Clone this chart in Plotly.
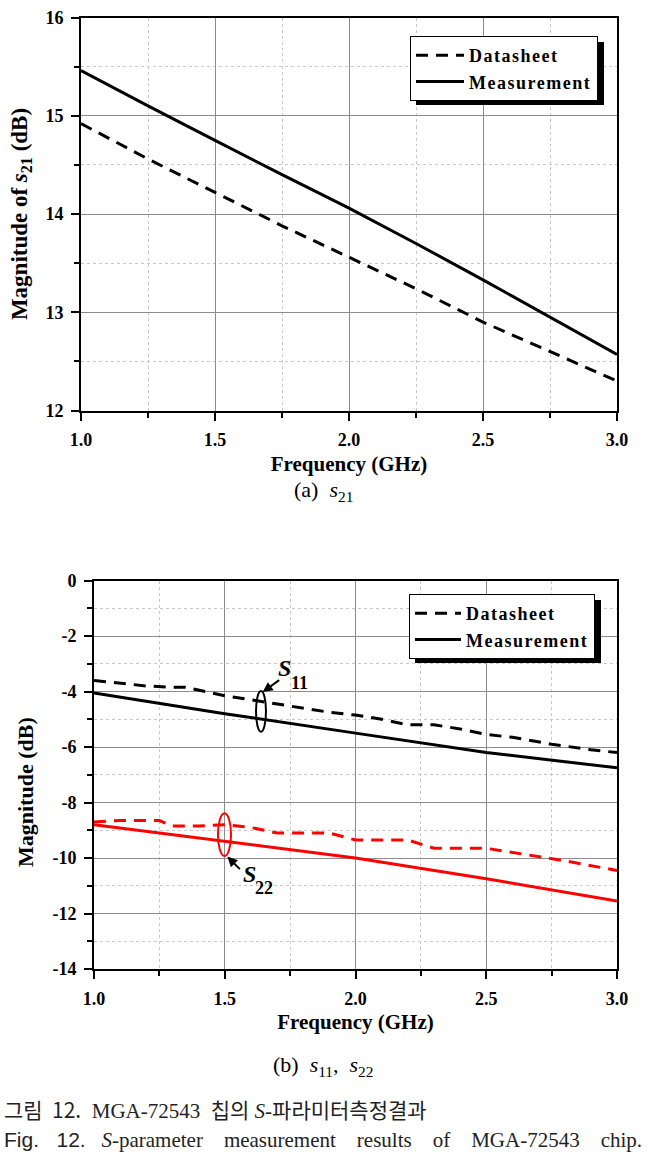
import plotly.graph_objects as go

# ---- data (a) s21 ----
freq_a = [1.0, 1.25, 1.5, 1.75, 2.0, 2.25, 2.5, 2.75, 3.0]
s21_datasheet = [14.92, 14.56, 14.22, 13.88, 13.56, 13.24, 12.9, 12.6, 12.3]
s21_measure = [15.46, 15.1, 14.75, 14.4, 14.06, 13.7, 13.33, 12.95, 12.57]

# ---- data (b) s11 / s22 ----
freq_s11_ds = [1.0, 1.1, 1.2, 1.3, 1.35, 1.5, 1.7, 1.9, 2.0, 2.1, 2.2, 2.3, 2.4, 2.5, 2.6, 2.75, 2.9, 3.0]
s11_datasheet = [-3.6, -3.7, -3.8, -3.85, -3.85, -4.15, -4.45, -4.75, -4.85, -5.0, -5.2, -5.2, -5.35, -5.55, -5.65, -5.9, -6.1, -6.2]
freq_b = [1.0, 1.5, 2.0, 2.5, 3.0]
s11_measure = [-4.05, -4.8, -5.5, -6.2, -6.75]
freq_s22_ds = [1.0, 1.1, 1.25, 1.3, 1.4, 1.5, 1.6, 1.7, 1.9, 2.0, 2.2, 2.3, 2.5, 2.7, 2.8, 3.0]
s22_datasheet = [-8.7, -8.65, -8.65, -8.85, -8.85, -8.8, -8.9, -9.1, -9.1, -9.35, -9.35, -9.65, -9.65, -9.95, -10.1, -10.45]
s22_measure = [-8.8, -9.4, -10.0, -10.75, -11.55]

W, H = 647, 1173
SERIF = "Liberation Serif, Times New Roman, serif"
KR = "Noto Sans CJK KR"
SANS = "Liberation Sans, Arial, sans-serif"

def legname(s):
    return "<span style='letter-spacing:1.5px'><b>%s</b></span>" % s

fig = go.Figure()
dash = "12px,8px"
fig.add_trace(go.Scatter(x=freq_a, y=s21_datasheet, mode="lines", name=legname("Datasheet"),
                         line=dict(color="black", width=3, dash=dash), xaxis="x", yaxis="y", legend="legend"))
fig.add_trace(go.Scatter(x=freq_a, y=s21_measure, mode="lines", name=legname("Measurement"),
                         line=dict(color="black", width=3), xaxis="x", yaxis="y", legend="legend"))

fig.add_trace(go.Scatter(x=freq_s11_ds, y=s11_datasheet, mode="lines", name=legname("Datasheet"),
                         line=dict(color="black", width=3, dash=dash), xaxis="x2", yaxis="y2", legend="legend2"))
fig.add_trace(go.Scatter(x=freq_b, y=s11_measure, mode="lines", name=legname("Measurement"),
                         line=dict(color="black", width=3), xaxis="x2", yaxis="y2", legend="legend2"))
fig.add_trace(go.Scatter(x=freq_s22_ds, y=s22_datasheet, mode="lines", name="s22 Datasheet",
                         line=dict(color="#ff0000", width=3, dash=dash), xaxis="x2", yaxis="y2", showlegend=False))
fig.add_trace(go.Scatter(x=freq_b, y=s22_measure, mode="lines", name="s22 Measurement",
                         line=dict(color="#ff0000", width=3), xaxis="x2", yaxis="y2", showlegend=False))

def py(p):
    return 1 - p / H

def px(p):
    return p / W

tickfont = dict(family=SERIF, size=18, color="black")
titlefont = dict(family=SERIF, size=21, color="black")
ytitlefont = dict(family=SERIF, size=22, color="black")

def xaxis(domain, anchor):
    return dict(domain=domain, anchor=anchor, range=[1.0, 3.0], tickvals=[1.0, 1.5, 2.0, 2.5, 3.0],
                ticktext=["<b>1.0</b>", "<b>1.5</b>", "<b>2.0</b>", "<b>2.5</b>", "<b>3.0</b>"],
                ticks="outside", ticklen=8, tickwidth=2, tickcolor="black",
                showline=True, linecolor="black", linewidth=2, mirror=True,
                showgrid=True, gridcolor="#8c8c8c", gridwidth=1, zeroline=False, automargin=False,
                minor=dict(tickvals=[1.25, 1.75, 2.25, 2.75], ticks="outside", ticklen=5, tickwidth=2,
                           tickcolor="black", showgrid=True, gridcolor="#c8c8c8", griddash="dot", gridwidth=1),
                tickfont=tickfont, ticklabelstandoff=4,
                title=dict(text="<b>Frequency (GHz)</b>", font=titlefont, standoff=7))

def yaxis(domain, anchor, rng, vals, mvals, title, tfont):
    return dict(domain=domain, anchor=anchor, range=rng, tickvals=vals,
                ticktext=["<b>%d</b>" % v for v in vals],
                ticks="outside", ticklen=8, tickwidth=2, tickcolor="black",
                showline=True, linecolor="black", linewidth=2, mirror=True,
                showgrid=True, gridcolor="#8c8c8c", gridwidth=1, zeroline=False, automargin=False,
                minor=dict(tickvals=mvals, ticks="outside", ticklen=5, tickwidth=2,
                           tickcolor="black", showgrid=True, gridcolor="#c8c8c8", griddash="dot", gridwidth=1),
                tickfont=tickfont, ticklabelstandoff=4,
                title=dict(text=title, font=tfont, standoff=11))

legfont = dict(family=SERIF, size=18, color="black")
fig.update_layout(
    width=W, height=H, margin=dict(l=0, r=0, t=0, b=0, autoexpand=False),
    paper_bgcolor="white", plot_bgcolor="white",
    xaxis=xaxis([px(81), px(617)], "y"),
    yaxis=yaxis([py(410.5), py(17.5)], "x", [12, 16], [12, 13, 14, 15, 16], [12.5, 13.5, 14.5, 15.5],
                "<b>Magnitude of <i>s</i><sub>21</sub> (dB)</b>", dict(family=SERIF, size=23, color="black")),
    xaxis2=xaxis([px(94), px(617)], "y2"),
    yaxis2=yaxis([py(969), py(580.5)], "x2", [-14, 0], [-14, -12, -10, -8, -6, -4, -2, 0],
                 [-13, -11, -9, -7, -5, -3, -1], "", ytitlefont),
    legend=dict(x=px(410), y=py(36), xanchor="left", yanchor="top", bgcolor="white",
                bordercolor="black", borderwidth=1, font=legfont, itemwidth=48, tracegroupgap=0),
    legend2=dict(x=px(409), y=py(594), xanchor="left", yanchor="top", bgcolor="white",
                 bordercolor="black", borderwidth=1, font=legfont, itemwidth=46, tracegroupgap=0),
    showlegend=True,
)

# bottom y-axis title (placed like the original, slightly below centre)
fig.add_annotation(x=px(25), y=py(792), xref="paper", yref="paper", xanchor="center", yanchor="middle",
                   textangle=-90, showarrow=False, text="<b>Magnitude (dB)</b>", font=ytitlefont)

# legend shadows
fig.add_shape(type="rect", xref="paper", yref="paper", x0=px(416), x1=px(604), y0=py(105), y1=py(42),
              fillcolor="black", line=dict(width=0), layer="above")
fig.add_shape(type="rect", xref="paper", yref="paper", x0=px(415), x1=px(601), y0=py(663), y1=py(600),
              fillcolor="black", line=dict(width=0), layer="above")

# ellipse markers
fig.add_shape(type="circle", xref="x2", yref="y2", x0=1.6195, x1=1.6577, y0=-5.45, y1=-3.98,
              line=dict(color="black", width=2))
fig.add_shape(type="circle", xref="x2", yref="y2", x0=1.474, x1=1.524, y0=-9.93, y1=-8.39,
              line=dict(color="#ff0000", width=2))

# arrows
fig.add_annotation(x=1.645, y=-4.02, xref="x2", yref="y2", ax=18, ay=-13, text="", showarrow=True,
                   arrowhead=2, arrowsize=1, arrowwidth=2, arrowcolor="black")
fig.add_annotation(x=1.51, y=-9.95, xref="x2", yref="y2", ax=14, ay=14, text="", showarrow=True,
                   arrowhead=2, arrowsize=1, arrowwidth=2, arrowcolor="black")
# labels
def lab(x, y, text, size):
    fig.add_annotation(x=px(x), y=py(y), xref="paper", yref="paper", xanchor="center", yanchor="middle",
                       showarrow=False, text=text, font=dict(family=SERIF, size=size, color="black"))

lab(284, 668, "<b><i>S</i></b>", 24)
lab(299, 683, "<b>11</b>", 18)
lab(249, 874, "<b><i>S</i></b>", 24)
lab(264, 888, "<b>22</b>", 18)

# captions
fig.add_annotation(x=0.5, y=py(491), xref="paper", yref="paper", xanchor="center", yanchor="middle", showarrow=False,
                   text="(a)  <i>s</i><sub>21</sub>", font=dict(family=SERIF, size=22, color="black"))
fig.add_annotation(x=0.5, y=py(1066), xref="paper", yref="paper", xanchor="center", yanchor="middle", showarrow=False,
                   text="(b)  <i>s</i><sub>11</sub>,  <i>s</i><sub>22</sub>", font=dict(family=SERIF, size=22, color="black"))
fig.add_annotation(x=px(2), y=py(1109), xref="paper", yref="paper", xanchor="left", yanchor="middle", showarrow=False,
                   text=(f"<span style='font-family:{KR}'>그림&nbsp; 12.</span>&nbsp; MGA-72543&nbsp; "
                         f"<span style='font-family:{KR}'>칩의</span> <i>S</i>-<span style='font-family:{KR}'>파라미터측정결과</span>"),
                   font=dict(family=SERIF, size=21, color="#222"))
fig.add_annotation(x=px(2), y=py(1140), xref="paper", yref="paper", xanchor="left", yanchor="middle", showarrow=False,
                   text=(f"<span style='font-family:{SANS}'>Fig.&nbsp;&nbsp; 12.</span>&nbsp;&nbsp; <i>S</i>-parameter&nbsp;&nbsp;&nbsp; measurement&nbsp;&nbsp;&nbsp; "
                         "results&nbsp;&nbsp;&nbsp; of&nbsp;&nbsp;&nbsp; MGA-72543&nbsp;&nbsp;&nbsp; chip."),
                   font=dict(family=SERIF, size=21, color="#222"))

fig.write_html("out.html", config={"displayModeBar": False},
               post_script="document.body.style.margin='0';document.body.style.padding='0';")
